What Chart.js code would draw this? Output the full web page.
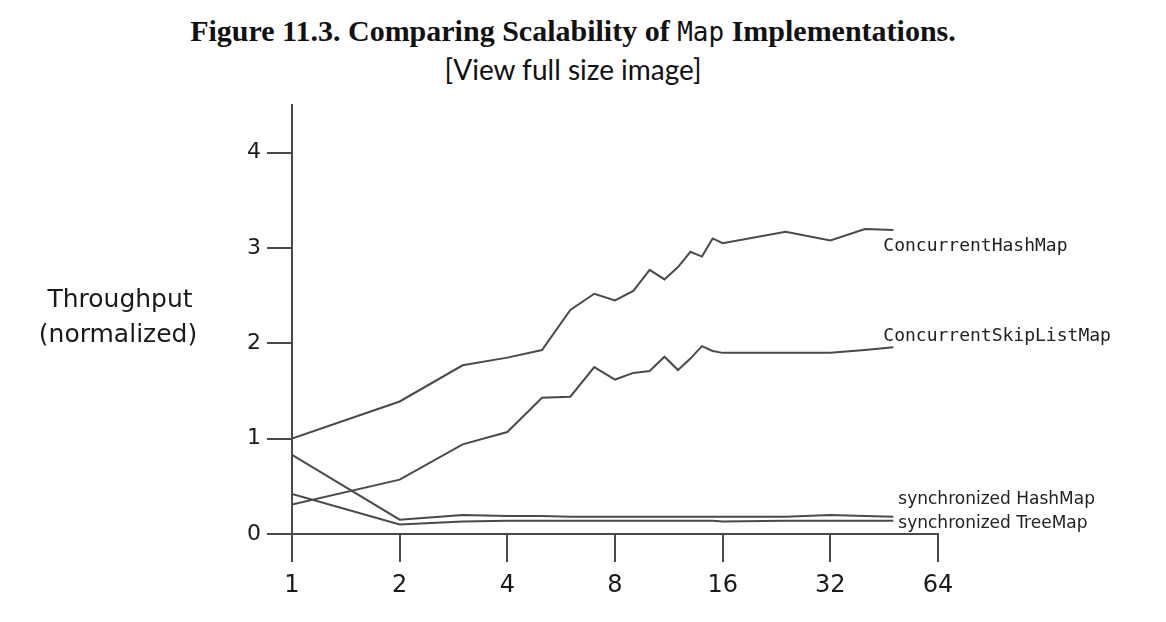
<!DOCTYPE html>
<html>
<head>
<meta charset="utf-8">
<script src="https://cdn.jsdelivr.net/npm/chart.js@4/dist/chart.umd.min.js"></script>
<style>
  html, body { margin: 0; padding: 0; background: #fff; }
  #wrap { position: relative; width: 1166px; height: 622px; overflow: hidden; }
  canvas { position: absolute; left: 0; top: 0; }
  .title { position: absolute; left: -10px; width: 1166px; text-align: center; color: #111; white-space: nowrap; }
  #t1 { top: 14px; font: bold 30px "Liberation Serif", serif; }
  #t1 code { font: 26px "DejaVu Sans Mono", monospace; font-weight: normal; }
  #t2 { top: 52px; font: 28px Lato, sans-serif; }
</style>
</head>
<body>
<div id="wrap">
  <div class="title" id="t1">Figure 11.3. Comparing Scalability of <code>Map</code> Implementations.</div>
  <div class="title" id="t2">[View full size image]</div>
  <canvas id="c" width="1166" height="622"></canvas>
</div>
<script>
// ---- data ----
const threads = [1, 2, 3, 4, 5, 6, 7, 8, 9, 10, 11, 12, 13, 14, 15, 16, 24, 32, 40, 48];
const concurrentHashMap = [1.00, 1.39, 1.77, 1.85, 1.93, 2.35, 2.52, 2.45, 2.55, 2.77, 2.67, 2.80, 2.96, 2.91, 3.10, 3.05, 3.17, 3.08, 3.20, 3.19];
const concurrentSkipListMap = [0.31, 0.57, 0.94, 1.07, 1.43, 1.44, 1.75, 1.62, 1.69, 1.71, 1.86, 1.72, 1.84, 1.97, 1.92, 1.90, 1.90, 1.90, 1.93, 1.96];
const synchronizedHashMap = [0.83, 0.15, 0.20, 0.19, 0.19, 0.18, 0.18, 0.18, 0.18, 0.18, 0.18, 0.18, 0.18, 0.18, 0.18, 0.18, 0.18, 0.20, 0.19, 0.18];
const synchronizedTreeMap = [0.42, 0.10, 0.13, 0.14, 0.14, 0.14, 0.14, 0.14, 0.14, 0.14, 0.14, 0.14, 0.14, 0.14, 0.14, 0.13, 0.14, 0.14, 0.14, 0.14];
const seriesNames = ["ConcurrentHashMap", "ConcurrentSkipListMap", "synchronized HashMap", "synchronized TreeMap"];
const xTicks = [1, 2, 4, 8, 16, 32, 64];
const yTicks = [0, 1, 2, 3, 4];
const yTitle = ["Throughput", "(normalized)"];

const INK = '#4a4a4a';
const seriesValues = [concurrentHashMap, concurrentSkipListMap, synchronizedHashMap, synchronizedTreeMap];
const labelStyle = [
  { font: '18px "DejaVu Sans Mono", monospace', dx: -10, dy: 16 },
  { font: '18px "DejaVu Sans Mono", monospace', dx: -10, dy: -11 },
  { font: '17px "DejaVu Sans", sans-serif', dx: 5, dy: -17 },
  { font: '17px "DejaVu Sans", sans-serif', dx: 5, dy: 3 }
];

const datasets = seriesValues.map((vals, i) => ({
  label: seriesNames[i],
  data: threads.map((t, j) => ({ x: t, y: vals[j] })),
  borderColor: INK,
  borderWidth: 2,
  pointRadius: 0,
  tension: 0,
  fill: false
}));

const labelPlugin = {
  id: 'seriesLabels',
  afterDraw(chart) {
    const ctx = chart.ctx;
    ctx.save();
    ctx.fillStyle = '#222';
    ctx.textBaseline = 'middle';
    ctx.textAlign = 'left';
    chart.data.datasets.forEach((ds, i) => {
      const meta = chart.getDatasetMeta(i);
      const last = meta.data[meta.data.length - 1];
      const st = labelStyle[i];
      ctx.font = st.font;
      ctx.fillText(ds.label, last.x + st.dx, last.y + st.dy);
    });
    // y axis title (horizontal, two lines)
    ctx.font = '25px "DejaVu Sans", sans-serif';
    ctx.fillStyle = '#1a1a1a';
    ctx.textAlign = 'center';
    ctx.fillText(yTitle[0], 120, 300);
    ctx.fillText(yTitle[1], 118, 335);
    ctx.restore();
  }
};

new Chart(document.getElementById('c'), {
  type: 'line',
  data: { datasets },
  plugins: [labelPlugin],
  options: {
    responsive: false,
    animation: false,
    layout: { padding: { left: 232, right: 228, top: 105, bottom: 0 } },
    plugins: { legend: { display: false }, tooltip: { enabled: false }, title: { display: false } },
    scales: {
      x: {
        type: 'logarithmic',
        min: 1,
        max: 64,
        afterBuildTicks: axis => { axis.ticks = xTicks.map(v => ({ value: v })); },
        afterFit: s => { s.height = 88; },
        ticks: {
          autoSkip: false,
          maxRotation: 0,
          padding: 9,
          color: '#1a1a1a',
          font: { family: '"DejaVu Sans", sans-serif', size: 24 },
          callback: v => String(v)
        },
        grid: { drawOnChartArea: false, drawTicks: true, tickLength: 28, color: INK, lineWidth: 2 },
        border: { display: true, color: INK, width: 2 }
      },
      y: {
        type: 'linear',
        min: 0,
        max: 4.5,
        afterBuildTicks: axis => { axis.ticks = yTicks.map(v => ({ value: v })); },
        afterFit: s => { s.width = 60; },
        ticks: {
          padding: 6,
          color: '#1a1a1a',
          font: { family: '"DejaVu Sans", sans-serif', size: 22 },
          callback: v => String(v)
        },
        grid: { drawOnChartArea: false, drawTicks: true, tickLength: 25, color: INK, lineWidth: 2 },
        border: { display: true, color: INK, width: 2 }
      }
    }
  }
});
</script>
</body>
</html>
